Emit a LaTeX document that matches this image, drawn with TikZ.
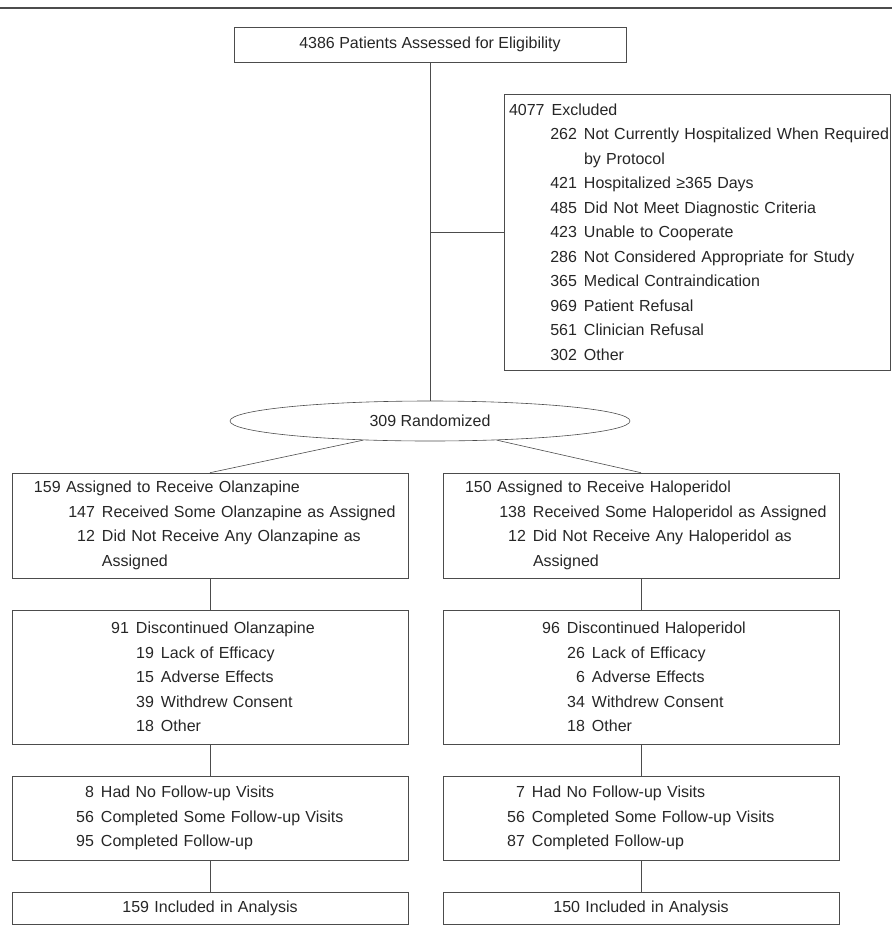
\documentclass[tikz,border=0pt]{standalone}
\usepackage{fontspec}
\setmainfont{Liberation Sans}
\usepackage{tikz}
\usetikzlibrary{shapes.geometric}

\newcommand{\reason}[3][0pt]{\mbox{\hspace*{#1}\makebox[27pt][r]{#2}\hspace{7pt}#3}}

\begin{document}
\begin{tikzpicture}[x=1pt,y=-1pt,semithick,black!70,
    every node/.style={text=black!85,font=\fontsize{16}{24.5}\selectfont}]
  \tikzstyle{box}=[draw,rectangle,inner sep=0pt,align=left]
  \tikzstyle{arm}=[box,text width=396pt,minimum width=396pt]
  \tikzstyle{trial}=[draw,ellipse,inner sep=0pt,minimum width=400pt,minimum height=40pt]

  \useasboundingbox (0,0) rectangle (892,935);
  \draw[line width=1.2pt] (0,8) -- (892,8);

  \node[box,align=center,minimum width=392pt,minimum height=35pt] (A) at (430,44.5) {4386 Patients Assessed for Eligibility};
  \node[box,text width=386pt,minimum height=276pt] (B) at (697,232) {\hspace*{5pt}4077\hspace{7pt}Excluded\\
    \reason[46pt]{262}{Not Currently Hospitalized When Required}\\
    \hspace*{80pt}by Protocol\\
    \reason[46pt]{421}{Hospitalized ≥365 Days}\\
    \reason[46pt]{485}{Did Not Meet Diagnostic Criteria}\\
    \reason[46pt]{423}{Unable to Cooperate}\\
    \reason[46pt]{286}{Not Considered Appropriate for Study}\\
    \reason[46pt]{365}{Medical Contraindication}\\
    \reason[46pt]{969}{Patient Refusal}\\
    \reason[46pt]{561}{Clinician Refusal}\\
    \reason[46pt]{302}{Other}};
  \node[trial] (C) at (430,421) {309 Randomized};
  \node[arm,minimum height=105pt] (D) at (210,525.5) {\hspace*{22pt}159 Assigned to Receive Olanzapine\\
    \reason[56pt]{147}{Received Some Olanzapine as Assigned}\\
    \reason[56pt]{12}{Did Not Receive Any Olanzapine as}\\
    \hspace*{90pt}Assigned};
  \node[arm,minimum height=105pt] (E) at (641,525.5) {\hspace*{22pt}150 Assigned to Receive Haloperidol\\
    \reason[56pt]{138}{Received Some Haloperidol as Assigned}\\
    \reason[56pt]{12}{Did Not Receive Any Haloperidol as}\\
    \hspace*{90pt}Assigned};
  \node[arm,minimum height=134pt] (F) at (210,677) {\reason[90pt]{91}{Discontinued Olanzapine}\\
    \reason[115pt]{19}{Lack of Efficacy}\\
    \reason[115pt]{15}{Adverse Effects}\\
    \reason[115pt]{39}{Withdrew Consent}\\
    \reason[115pt]{18}{Other}};
  \node[arm,minimum height=134pt] (G) at (641,677) {\reason[90pt]{96}{Discontinued Haloperidol}\\
    \reason[115pt]{26}{Lack of Efficacy}\\
    \reason[115pt]{6}{Adverse Effects}\\
    \reason[115pt]{34}{Withdrew Consent}\\
    \reason[115pt]{18}{Other}};
  \node[arm,minimum height=84pt] (H) at (210,818) {\reason[55pt]{8}{Had No Follow-up Visits}\\
    \reason[55pt]{56}{Completed Some Follow-up Visits}\\
    \reason[55pt]{95}{Completed Follow-up}};
  \node[arm,minimum height=84pt] (I) at (641,818) {\reason[55pt]{7}{Had No Follow-up Visits}\\
    \reason[55pt]{56}{Completed Some Follow-up Visits}\\
    \reason[55pt]{87}{Completed Follow-up}};
  \node[arm,align=center,minimum height=32pt] (J) at (210,908) {159 Included in Analysis};
  \node[arm,align=center,minimum height=32pt] (K) at (641,908) {150 Included in Analysis};

  \coordinate (T) at (A.south |- B.west);
  \path (A) edge (C)
        (T) edge (B)
        (C.196) edge (D.north)
        (C.-16) edge (E.north)
        (D) edge (F)
        (E) edge (G)
        (F) edge (H)
        (G) edge (I)
        (H) edge (J)
        (I) edge (K);
\end{tikzpicture}
\end{document}
